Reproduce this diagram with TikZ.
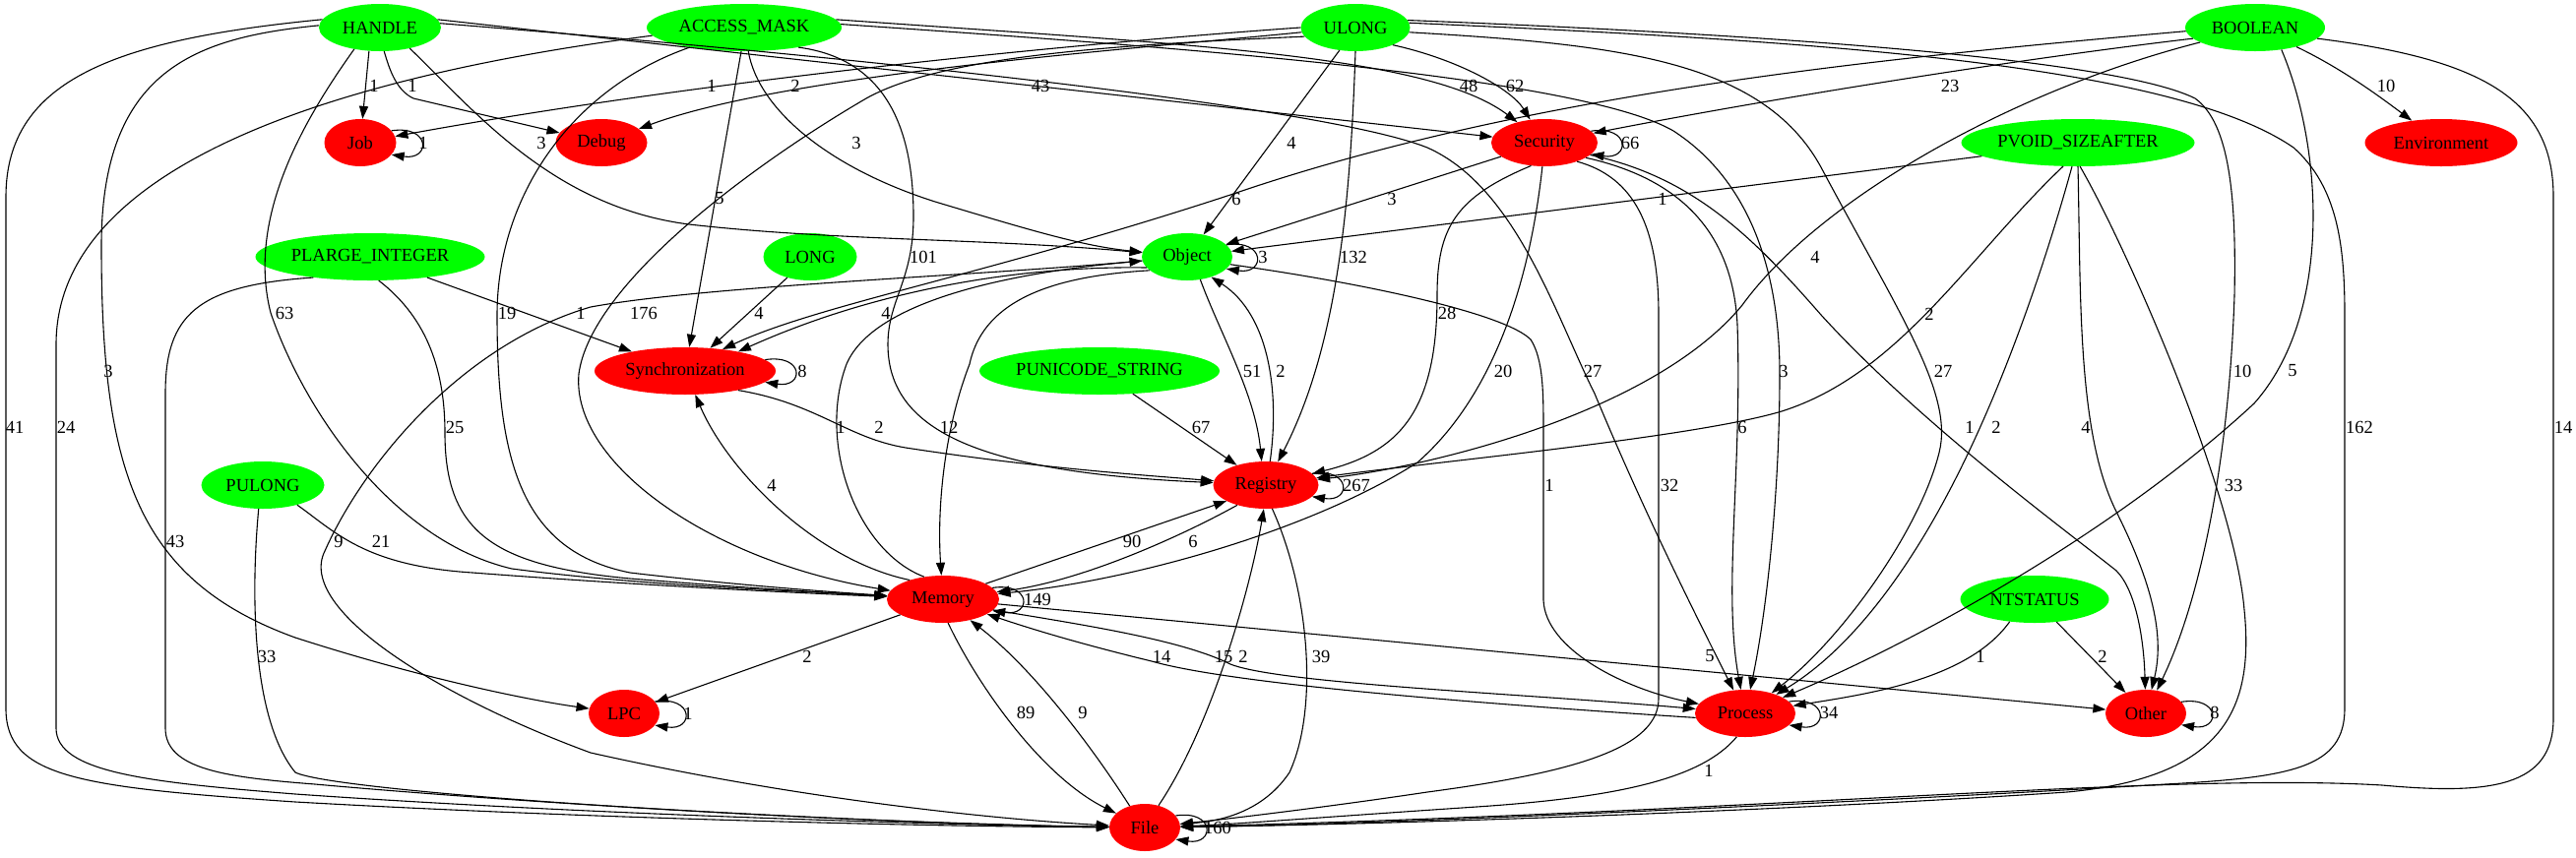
\documentclass[tikz,border=0pt]{standalone}
\usepackage{fontspec}
\setmainfont{Liberation Serif}
\usetikzlibrary{shapes.geometric,arrows.meta}
\definecolor{gvgreen}{RGB}{0,255,0}
\definecolor{gvred}{RGB}{255,0,0}
\newcommand{\gvfont}{\fontsize{18.5}{20}\selectfont}
\tikzset{
  gv/.style={ellipse, draw=none, minimum height=48pt, inner sep=0pt, font=\gvfont},
  gn/.style={gv, fill=gvgreen},
  rn/.style={gv, fill=gvred},
  gedge/.style={line width=1.1pt, -{Triangle[length=13pt,width=9pt]}},
  glab/.style={font=\gvfont, inner sep=0pt},
}
\begin{document}
\begin{tikzpicture}[x=1pt,y=-1pt]
\useasboundingbox (0,0) rectangle (2617,871);
% nodes
\node[gn, minimum width=124pt] (H) at (386,28) {HANDLE};
\node[gn, minimum width=198pt] (AM) at (756,28) {ACCESS\_MASK};
\node[gn, minimum width=111pt] (UL) at (1377,28) {ULONG};
\node[gn, minimum width=142pt] (BO) at (2291,28) {BOOLEAN};
\node[rn, minimum width=73pt] (Job) at (366,145) {Job};
\node[rn, minimum width=93pt] (Dbg) at (611,145) {Debug};
\node[rn, minimum width=108pt] (Sec) at (1569,145) {Security};
\node[gn, minimum width=237pt] (PV) at (2111,145) {PVOID\_SIZEAFTER};
\node[rn, minimum width=155pt] (Env) at (2480,145) {Environment};
\node[gn, minimum width=233pt] (PL) at (376,261) {PLARGE\_INTEGER};
\node[gn, minimum width=95pt] (LG) at (823,261) {LONG};
\node[gn, minimum width=92pt] (Obj) at (1206,261) {Object};
\node[rn, minimum width=184pt] (Syn) at (696,377) {Synchronization};
\node[gn, minimum width=244pt] (PU) at (1117,377) {PUNICODE\_STRING};
\node[gn, minimum width=125pt] (PUL) at (267,493) {PULONG};
\node[rn, minimum width=107pt] (Reg) at (1286,493) {Registry};
\node[rn, minimum width=114pt] (Mem) at (958,609) {Memory};
\node[gn, minimum width=151pt] (NT) at (2067,609) {NTSTATUS};
\node[rn, minimum width=72pt] (LPC) at (634,725) {LPC};
\node[rn, minimum width=102pt] (Pro) at (1773,725) {Process};
\node[rn, minimum width=82pt] (Oth) at (2180,725) {Other};
\node[rn, minimum width=72pt] (File) at (1163,841) {File};

% HANDLE
\draw[gedge] (H.245) -- (Job);
\draw[gedge] (H.-80) .. controls (396,72) and (403,92) .. (420,100) -- (Dbg);
\draw[gedge] (H.8) -- (Sec);
\draw[gedge] (H.-35) .. controls (480,110) and (560,210) .. (700,228) .. controls (850,245) and (1000,242) .. (Obj);
\draw[gedge] (H.-140) .. controls (310,120) and (250,220) .. (275,318) .. controls (310,420) and (400,550) .. (520,578) .. controls (650,595) and (800,600) .. (Mem);
\draw[gedge] (H.178) .. controls (200,38) and (103,70) .. (103,250) .. controls (103,480) and (140,590) .. (300,648) .. controls (430,690) and (540,712) .. (LPC);
\draw[gedge] (H.172) .. controls (120,40) and (6,80) .. (6,200) -- (6,720) .. controls (6,790) and (80,800) .. (300,815) .. controls (600,832) and (950,840) .. (File);
\draw[gedge] (H.4) .. controls (900,60) and (1350,110) .. (1450,150) .. controls (1540,190) and (1580,320) .. (1620,400) .. controls (1670,520) and (1720,620) .. (Pro);
% ACCESS_MASK
\draw[gedge] (AM.5) .. controls (1200,45) and (1450,55) .. (Sec);
\draw[gedge] (AM.-80) .. controls (770,110) and (840,170) .. (950,205) .. controls (1050,235) and (1100,250) .. (Obj);
\draw[gedge] (AM.-97) -- (Syn);
\draw[gedge] (AM.-20) .. controls (900,60) and (928,130) .. (928,220) .. controls (928,285) and (902,305) .. (902,350) .. controls (902,440) and (1000,480) .. (Reg);
\draw[gedge] (AM.200) .. controls (580,90) and (505,200) .. (505,320) .. controls (505,470) and (530,560) .. (640,582) .. controls (750,595) and (850,602) .. (Mem);
\draw[gedge] (AM.185) .. controls (400,70) and (57,150) .. (57,350) -- (57,740) .. controls (57,785) and (150,795) .. (300,807) .. controls (600,828) and (950,838) .. (File);
\draw[gedge] (AM.2) .. controls (1150,45) and (1600,75) .. (1700,133) .. controls (1780,185) and (1808,280) .. (1808,380) .. controls (1808,500) and (1795,620) .. (Pro);
% ULONG
\draw[gedge] (UL.180) .. controls (1150,40) and (750,75) .. (Job);
\draw[gedge] (UL.185) .. controls (1150,50) and (800,75) .. (Dbg);
\draw[gedge] (UL.-25) .. controls (1480,60) and (1535,90) .. (Sec);
\draw[gedge] (UL.-125) -- (Obj);
\draw[gedge] (UL.-90) .. controls (1372,200) and (1360,350) .. (Reg);
\draw[gedge] (UL.190) .. controls (1150,45) and (960,55) .. (880,100) .. controls (760,170) and (600,290) .. (588,380) .. controls (580,470) and (720,570) .. (Mem);
\draw[gedge] (UL.-5) .. controls (1640,45) and (1790,60) .. (1850,170) .. controls (1930,320) and (1985,400) .. (1970,460) .. controls (1950,540) and (1870,650) .. (Pro);
\draw[gedge] (UL.8) .. controls (1800,35) and (2150,60) .. (2230,100) .. controls (2265,125) and (2272,200) .. (2270,300) .. controls (2265,450) and (2240,600) .. (Oth);
\draw[gedge] (UL.5) .. controls (1800,40) and (2200,60) .. (2330,150) .. controls (2375,190) and (2382,250) .. (2382,320) -- (2382,720) .. controls (2382,780) and (2330,790) .. (2200,797) .. controls (1900,815) and (1400,838) .. (File);
% BOOLEAN
\draw[gedge] (BO.190) .. controls (2050,60) and (1800,100) .. (Sec);
\draw[gedge] (BO.-25) .. controls (2380,70) and (2420,100) .. (Env);
\draw[gedge] (BO.183) .. controls (1900,60) and (1550,95) .. (1250,198) .. controls (1000,280) and (830,310) .. (Syn.30);
\draw[gedge] (BO.195) .. controls (2050,90) and (1850,200) .. (1770,310) .. controls (1680,420) and (1450,475) .. (Reg);
\draw[gedge] (BO.-40) .. controls (2360,150) and (2370,320) .. (2290,410) .. controls (2150,540) and (1950,650) .. (Pro);
\draw[gedge] (BO.-10) .. controls (2520,60) and (2594,100) .. (2594,200) -- (2594,730) .. controls (2594,800) and (2530,808) .. (2420,798) .. controls (2200,785) and (1800,825) .. (File);
% Security
\draw[gedge] (Sec) -- (Obj);
\draw[gedge] (Sec.-120) .. controls (1480,200) and (1460,230) .. (1460,300) .. controls (1460,420) and (1420,460) .. (Reg);
\draw[gedge] (Sec.-95) .. controls (1555,280) and (1520,400) .. (1440,470) .. controls (1330,540) and (1150,590) .. (Mem);
\draw[gedge] (Sec.-20) .. controls (1700,180) and (1760,230) .. (1765,330) .. controls (1770,480) and (1750,600) .. (Pro);
\draw[gedge] (Sec.-15) .. controls (1720,180) and (1780,240) .. (1850,320) .. controls (1950,430) and (2100,540) .. (2150,580) .. controls (2170,600) and (2178,650) .. (Oth);
\draw[gedge] (Sec.-30) .. controls (1660,180) and (1685,230) .. (1685,320) -- (1685,710) .. controls (1685,760) and (1600,785) .. (1450,805) .. controls (1350,820) and (1250,832) .. (File);
% PVOID_SIZEAFTER
\draw[gedge] (PV.188) -- (Obj);
\draw[gedge] (PV.-122) .. controls (2000,260) and (1930,380) .. (1810,418) .. controls (1720,445) and (1450,470) .. (Reg);
\draw[gedge] (PV.-104) .. controls (2080,260) and (2040,380) .. (1990,480) .. controls (1940,580) and (1880,660) .. (Pro);
\draw[gedge] (PV.-90) .. controls (2114,300) and (2110,440) .. (2150,520) .. controls (2190,600) and (2198,650) .. (Oth);
\draw[gedge] (PV.-85) .. controls (2160,250) and (2270,500) .. (2280,620) .. controls (2290,720) and (2260,790) .. (2100,805) .. controls (1800,825) and (1400,838) .. (File);
% PLARGE_INTEGER, LONG, PULONG, PUNICODE
\draw[gedge] (PL) -- (Syn);
\draw[gedge] (PL.-70) .. controls (430,320) and (452,370) .. (452,440) .. controls (452,540) and (500,575) .. (640,588) .. controls (750,597) and (850,603) .. (Mem);
\draw[gedge] (PL.200) .. controls (200,290) and (168,320) .. (168,400) -- (168,740) .. controls (168,782) and (230,790) .. (320,797) .. controls (600,822) and (950,838) .. (File);
\draw[gedge] (LG) -- (Syn);
\draw[gedge] (PUL.-30) .. controls (340,540) and (370,575) .. (480,582) .. controls (650,595) and (800,602) .. (Mem);
\draw[gedge] (PUL.-100) .. controls (255,600) and (255,730) .. (300,785) .. controls (340,805) and (800,835) .. (File);
\draw[gedge] (PU) -- (Reg);
% Object
\draw[gedge] (Obj.195) .. controls (1050,270) and (900,290) .. (Syn.20);
\draw[gedge] (Obj.-60) .. controls (1240,340) and (1275,400) .. (Reg.100);
\draw[gedge] (Reg.80) .. controls (1300,400) and (1290,320) .. (Obj.-40);
\draw[gedge] (Obj.200) .. controls (1080,280) and (1000,300) .. (985,370) .. controls (958,440) and (952,520) .. (Mem);
\draw[gedge] (Mem.130) .. controls (870,560) and (830,450) .. (860,370) .. controls (890,300) and (1050,275) .. (Obj);
\draw[gedge] (Obj.185) .. controls (1000,280) and (720,290) .. (600,312) .. controls (470,350) and (370,470) .. (330,560) .. controls (300,620) and (450,710) .. (600,765) .. controls (800,810) and (1000,832) .. (File);
\draw[gedge] (Obj.-10) .. controls (1400,290) and (1530,320) .. (1555,345) .. controls (1568,365) and (1568,400) .. (1568,440) -- (1568,610) .. controls (1570,660) and (1650,700) .. (Pro);
% Synchronization, Registry, Memory
\draw[gedge] (Syn.-20) .. controls (830,410) and (860,445) .. (920,455) .. controls (1050,475) and (1150,482) .. (Reg);
\draw[gedge] (Mem.150) .. controls (830,570) and (740,480) .. (Syn);
\draw[gedge] (Mem.20) -- (Reg.202);
\draw[gedge] (Reg.215) .. controls (1200,545) and (1100,590) .. (Mem);
\draw[gedge] (Mem.-5) -- (Oth);
\draw[gedge] (Mem.-12) .. controls (1100,635) and (1200,650) .. (1250,675) .. controls (1300,695) and (1550,705) .. (Pro);
\draw[gedge] (Pro.185) .. controls (1500,715) and (1250,695) .. (1170,672) .. controls (1100,655) and (1050,640) .. (Mem);
\draw[gedge] (Mem.200) -- (LPC);
\draw[gedge] (Mem.-78) .. controls (995,700) and (1060,790) .. (File);
\draw[gedge] (File.125) .. controls (1110,760) and (1050,680) .. (Mem);
\draw[gedge] (File.58) .. controls (1230,740) and (1270,600) .. (Reg.-95);
\draw[gedge] (Reg.-75) .. controls (1330,600) and (1340,720) .. (1310,785) .. controls (1280,830) and (1230,835) .. (File);
\draw[gedge] (Pro.-110) .. controls (1730,790) and (1650,810) .. (1500,820) .. controls (1350,830) and (1250,838) .. (File);
\draw[gedge] (NT.-138) .. controls (2000,690) and (1900,705) .. (Pro);
\draw[gedge] (NT.-46) -- (Oth);
% self loops
\draw[gedge] (Job.21) .. controls +(40,-6) and +(40,6) .. (Job.-21);
\draw[gedge] (Sec.14) .. controls +(40,-6) and +(40,6) .. (Sec.-14);
\draw[gedge] (Obj.17) .. controls +(40,-6) and +(40,6) .. (Obj.-17);
\draw[gedge] (Syn.8.6) .. controls +(40,-6) and +(40,6) .. (Syn.-8.6);
\draw[gedge] (Reg.14.5) .. controls +(40,-6) and +(40,6) .. (Reg.-14.5);
\draw[gedge] (Mem.13.7) .. controls +(40,-6) and +(40,6) .. (Mem.-13.7);
\draw[gedge] (LPC.21) .. controls +(40,-6) and +(40,6) .. (LPC.-21);
\draw[gedge] (Pro.15) .. controls +(40,-6) and +(40,6) .. (Pro.-15);
\draw[gedge] (Oth.18.7) .. controls +(40,-6) and +(40,6) .. (Oth.-18.7);
\draw[gedge] (File.21) .. controls +(40,-6) and +(40,6) .. (File.-21);

% labels
\node[glab] (a1) at (380,87) {1};
\node[glab] (a2) at (419,87) {1};
\node[glab] (a3) at (723,87) {1};
\node[glab] (a4) at (808,87) {2};
\node[glab] (a5) at (1057,87) {43};
\node[glab] (a6) at (1492,87) {48};
\node[glab] (a7) at (1539,87) {62};
\node[glab] (a8) at (1981,87) {23};
\node[glab] (a9) at (2424,87) {10};
\node[glab] (b1) at (430,145) {1};
\node[glab] (b2) at (550,145) {3};
\node[glab] (b3) at (870,145) {3};
\node[glab] (b4) at (1312,145) {4};
\node[glab] (b5) at (1656,145) {66};
\node[glab] (c1) at (731,202) {5};
\node[glab] (c2) at (1256,202) {6};
\node[glab] (c3) at (1414,202) {3};
\node[glab] (c4) at (1689,202) {1};
\node[glab] (d1) at (938,261) {101};
\node[glab] (d2) at (1283,261) {3};
\node[glab] (d3) at (1375,261) {132};
\node[glab] (d4) at (1844,261) {4};
\node[glab] (e1) at (289,318) {63};
\node[glab] (e2) at (515,318) {19};
\node[glab] (e3) at (590,318) {1};
\node[glab] (e4) at (654,318) {176};
\node[glab] (e5) at (771,318) {4};
\node[glab] (e6) at (900,318) {4};
\node[glab] (e7) at (1470,318) {28};
\node[glab] (e8) at (1960,319) {2};
\node[glab] (f1) at (110,377) {3};
\node[glab] (f2) at (815,377) {8};
\node[glab] (f3) at (1272,377) {51};
\node[glab] (f4) at (1301,377) {2};
\node[glab] (f5) at (1527,377) {20};
\node[glab] (f6) at (1618,377) {27};
\node[glab] (f7) at (1812,377) {3};
\node[glab] (f8) at (1974,377) {27};
\node[glab] (f9) at (2278,377) {10};
\node[glab] (f10) at (2329,377) {5};
\node[glab] (g1) at (15,434) {41};
\node[glab] (g2) at (67,434) {24};
\node[glab] (g3) at (462,434) {25};
\node[glab] (g4) at (854,434) {1};
\node[glab] (g5) at (893,434) {2};
\node[glab] (g6) at (964,434) {12};
\node[glab] (g7) at (1220,434) {67};
\node[glab] (g8) at (1770,434) {6};
\node[glab] (g9) at (2001,434) {1};
\node[glab] (g10) at (2028,434) {2};
\node[glab] (g11) at (2119,434) {4};
\node[glab] (g12) at (2397,434) {162};
\node[glab] (g13) at (2604,434) {14};
\node[glab] (h1) at (784,493) {4};
\node[glab] (h2) at (1378,493) {267};
\node[glab] (h3) at (1574,493) {1};
\node[glab] (h4) at (1696,493) {32};
\node[glab] (h5) at (2269,493) {33};
\node[glab] (i1) at (178,550) {43};
\node[glab] (i2) at (344,550) {9};
\node[glab] (i3) at (387,550) {21};
\node[glab] (i4) at (1150,550) {90};
\node[glab] (i5) at (1212,550) {6};
\node[glab] (j1) at (1054,609) {149};
\node[glab] (k1) at (271,667) {33};
\node[glab] (k2) at (820,667) {2};
\node[glab] (k3) at (1180,667) {14};
\node[glab] (k4) at (1243,667) {15};
\node[glab] (k5) at (1263,667) {2};
\node[glab] (k6) at (1342,667) {39};
\node[glab] (k7) at (1737,667) {5};
\node[glab] (k8) at (2012,667) {1};
\node[glab] (k9) at (2136,667) {2};
\node[glab] (m1) at (699,725) {1};
\node[glab] (m2) at (1858,724) {34};
\node[glab] (m3) at (2250,724) {8};
\node[glab] (m4) at (1042,724) {89};
\node[glab] (m5) at (1100,724) {9};
\node[glab] (n1) at (1736,783) {1};
\node[glab] (n2) at (1237,841) {160};
\end{tikzpicture}
\end{document}
